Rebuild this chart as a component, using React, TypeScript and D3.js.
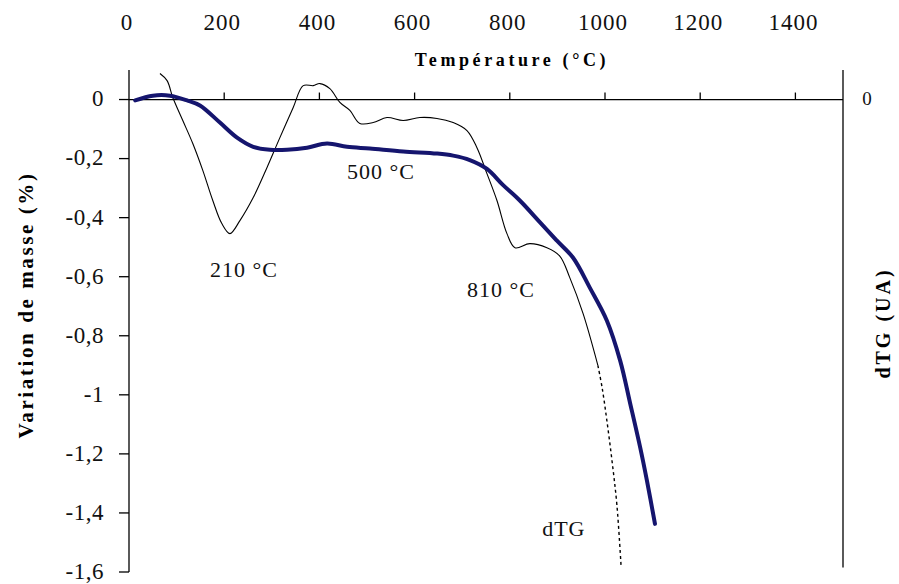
import React from "react";
import * as d3 from "d3";

const tgTemp = [13, 50, 86, 122, 149, 191, 227, 261, 296, 332, 374, 416, 458, 506, 576, 647, 681, 716, 752, 786, 821, 863, 899, 933, 968, 1004, 1032, 1053, 1074, 1088, 1105];
const tgMass = [-0.003, 0.013, 0.013, -0.003, -0.02, -0.078, -0.129, -0.16, -0.17, -0.17, -0.163, -0.149, -0.16, -0.166, -0.176, -0.183, -0.19, -0.205, -0.235, -0.29, -0.342, -0.415, -0.478, -0.536, -0.637, -0.749, -0.885, -1.03, -1.179, -1.29, -1.437];

const dtgTemp = [65, 80, 92, 113, 134, 155, 176, 195, 212, 233, 261, 290, 317, 345, 366, 387, 401, 422, 443, 464, 485, 513, 542, 576, 611, 647, 681, 710, 731, 752, 773, 794, 811, 842, 878, 905, 926, 954, 985];
const dtgVal = [0.088, 0.064, 0.007, -0.071, -0.149, -0.24, -0.342, -0.42, -0.454, -0.41, -0.332, -0.23, -0.129, -0.027, 0.047, 0.047, 0.054, 0.037, -0.01, -0.037, -0.081, -0.078, -0.061, -0.071, -0.061, -0.064, -0.078, -0.105, -0.163, -0.251, -0.342, -0.454, -0.502, -0.488, -0.502, -0.53, -0.603, -0.725, -0.9];
const dtgTailTemp = [985, 994, 1004, 1015, 1025, 1034];
const dtgTailVal = [-0.9, -0.976, -1.088, -1.227, -1.373, -1.586];

const xTicks = [0, 200, 400, 600, 800, 1000, 1200, 1400];
const yTicks = [0, -0.2, -0.4, -0.6, -0.8, -1, -1.2, -1.4, -1.6];
const yTickLabels = ["0", "-0,2", "-0,4", "-0,6", "-0,8", "-1", "-1,2", "-1,4", "-1,6"];

const peakLabels = ["210 °C", "500 °C", "810 °C", "dTG"];
const peakLabelT = [170, 458, 710, 868];
const peakLabelM = [-0.576, -0.244, -0.644, -1.451];

const W = 899;
const H = 584;
const font = "'Liberation Serif', 'Times New Roman', serif";

export default function App() {
  const x = d3.scaleLinear().domain([0, 1500]).range([129, 843]);
  const y = d3.scaleLinear().domain([-1.6, 0.1]).range([572, 70]);
  const yR = d3.scaleLinear().domain([-1.6, 0.1]).range([572, 70]);

  const tgLine = d3
    .line<number>()
    .x((_, i) => x(tgTemp[i]))
    .y((d) => y(d))
    .curve(d3.curveCatmullRom.alpha(0.5));
  const dtgLine = d3
    .line<number>()
    .x((_, i) => x(dtgTemp[i]))
    .y((d) => yR(d))
    .curve(d3.curveCatmullRom.alpha(0.5));
  const dtgTail = d3
    .line<number>()
    .x((_, i) => x(dtgTailTemp[i]))
    .y((d) => yR(d))
    .curve(d3.curveCatmullRom.alpha(0.5));

  const x0 = x(0);
  const x1 = x(1500);

  return (
    <svg width={W} height={H} style={{ position: "absolute", left: 0, top: 0, background: "#fff" }}>
      <rect x={0} y={0} width={W} height={H} fill="#fff" />
      {/* top tick labels */}
      {xTicks.map((t) => (
        <text key={"xl" + t} x={x(t) - 2} y={30} textAnchor="middle" fontFamily={font} fontSize={23} letterSpacing={1} fill="#111">
          {t}
        </text>
      ))}
      {/* top title */}
      <text x={512} y={66} textAnchor="middle" fontFamily={font} fontSize={18} fontWeight="bold" letterSpacing={3.6} fill="#000">
        Température (°C)
      </text>
      {/* left axis */}
      <line x1={x0} x2={x0} y1={y(0.1)} y2={y(-1.6)} stroke="#000" strokeWidth={1.3} />
      {yTicks.map((t, i) => (
        <g key={"yt" + i}>
          <line x1={x0 - 10} x2={x0} y1={y(t)} y2={y(t)} stroke="#000" strokeWidth={1.3} />
          <text x={104} y={y(t)} dy="0.3em" textAnchor="end" fontFamily={font} fontSize={23} letterSpacing={0.5} fill="#111">
            {yTickLabels[i]}
          </text>
        </g>
      ))}
      {/* zero line with ticks */}
      <line x1={x0} x2={x1} y1={y(0)} y2={y(0)} stroke="#000" strokeWidth={1.3} />
      {xTicks.filter((t) => t > 0).map((t) => (
        <line key={"xt" + t} x1={x(t)} x2={x(t)} y1={y(0) - 7} y2={y(0)} stroke="#000" strokeWidth={1.3} />
      ))}
      {/* right axis */}
      <line x1={x1} x2={x1} y1={yR(0.1)} y2={yR(-1.585)} stroke="#000" strokeWidth={1.3} />
      <text x={867} y={yR(0)} dy="0.3em" textAnchor="middle" fontFamily={font} fontSize={19} fill="#111">
        0
      </text>
      {/* axis titles */}
      <text transform={`translate(33,305) rotate(-90)`} textAnchor="middle" fontFamily={font} fontSize={21} fontWeight="bold" letterSpacing={2.6} fill="#000">
        Variation de masse (%)
      </text>
      <text transform={`translate(890,323) rotate(-90)`} textAnchor="middle" fontFamily={font} fontSize={20} fontWeight="bold" letterSpacing={3} fill="#000">
        dTG (UA)
      </text>
      {/* dTG curve */}
      <path d={dtgLine(dtgVal) || ""} fill="none" stroke="#000" strokeWidth={1.1} />
      <path d={dtgTail(dtgTailVal) || ""} fill="none" stroke="#000" strokeWidth={1.4} strokeDasharray="3,3" />
      {/* TG curve */}
      <path d={tgLine(tgMass) || ""} fill="none" stroke="#15156e" strokeWidth={4} strokeLinejoin="round" strokeLinecap="round" />
      {/* annotations */}
      {peakLabels.map((s, i) => (
        <text key={s} x={x(peakLabelT[i])} y={y(peakLabelM[i])} dy="0.35em" fontFamily={font} fontSize={22} letterSpacing={1} fill="#111">
          {s}
        </text>
      ))}
    </svg>
  );
}
